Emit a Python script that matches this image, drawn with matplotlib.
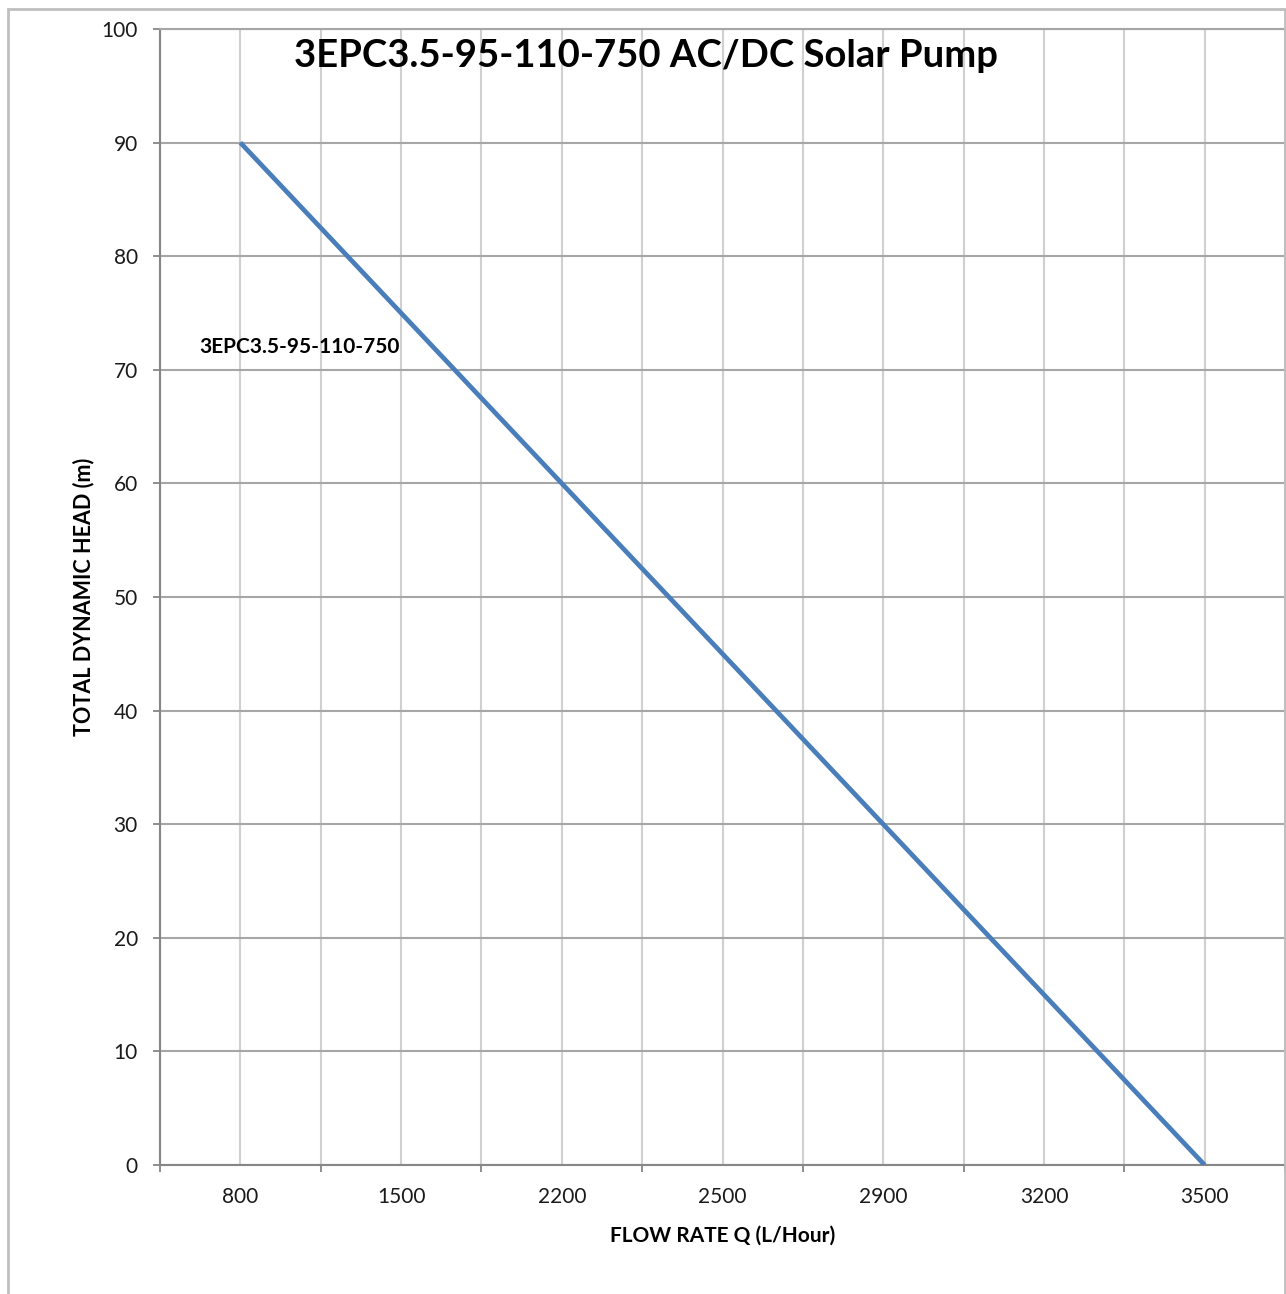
import numpy as np
import matplotlib
matplotlib.use('Agg')
import matplotlib.pyplot as plt
from matplotlib.patches import Rectangle

plt.rcParams['font.family'] = ['Lato', 'DejaVu Sans']

# pump curve data (category axis like the excel sheet)
flow = ['800', '1500', '2200', '2500', '2900', '3200', '3500']
head = [90, 75, 60, 45, 30, 15, 0]
y_ticks = list(range(0, 101, 10))

line_col = '#4a7ebb'
axis_col = '#868686'
hgrid = '#a6a6a6'
vgrid = '#d0d0d0'

fig = plt.figure(figsize=(12.86, 12.94), dpi=100)
ax = fig.add_axes([160/1286, 1 - 1165/1294, 1125/1286, (1165 - 29)/1294])

xs = np.arange(len(flow))
ax.plot(xs, head, color=line_col, linewidth=3.4, solid_capstyle='butt', zorder=3)

ax.set_xlim(-0.5, len(flow) - 0.5)
ax.set_ylim(0, 100)

ax.set_xticks(xs)
ax.set_xticklabels(flow)
ax.set_xticks(np.arange(-0.5, len(flow) - 0.4, 1), minor=True)
ax.set_yticks(y_ticks)
ax.set_yticklabels([str(v) for v in y_ticks])

ax.tick_params(axis='x', which='major', length=0, pad=16, labelsize=15, labelcolor='#1a1a1a')
ax.tick_params(axis='x', which='minor', length=5, width=1.3, color=axis_col, direction='out')
ax.tick_params(axis='y', length=5, width=1.3, color=axis_col, pad=11, labelsize=15, labelcolor='#1a1a1a')

ax.grid(axis='y', color=hgrid, linewidth=1.5)
ax.grid(axis='x', which='both', color=vgrid, linewidth=1.5)
ax.set_axisbelow(True)

ax.spines['right'].set_visible(False)
ax.spines['top'].set_color(hgrid)
ax.spines['top'].set_linewidth(1.5)
ax.spines['left'].set_color(axis_col)
ax.spines['left'].set_linewidth(1.5)
ax.spines['bottom'].set_color(axis_col)
ax.spines['bottom'].set_linewidth(1.5)

ax.set_xlabel('FLOW RATE Q (L/Hour)', fontsize=15, fontweight='bold', labelpad=13)
ax.set_ylabel('TOTAL DYNAMIC HEAD (m)', fontsize=15.5, fontweight='bold', labelpad=5)

fig.text(646/1286, 1 - 56/1294, '3EPC3.5-95-110-750 AC/DC Solar Pump', fontsize=27.5,
         fontweight='bold', ha='center', va='center')
ax.text(-0.255, 72, '3EPC3.5-95-110-750', fontsize=15, fontweight='bold', ha='left', va='center')

# outer chart border
fig.patches.append(Rectangle((8/1286, -0.05), 1277/1286, 1.05 - 9/1294, transform=fig.transFigure,
                             fill=False, edgecolor='#bfbfbf', linewidth=2))

fig.savefig('out.png', dpi=100)
